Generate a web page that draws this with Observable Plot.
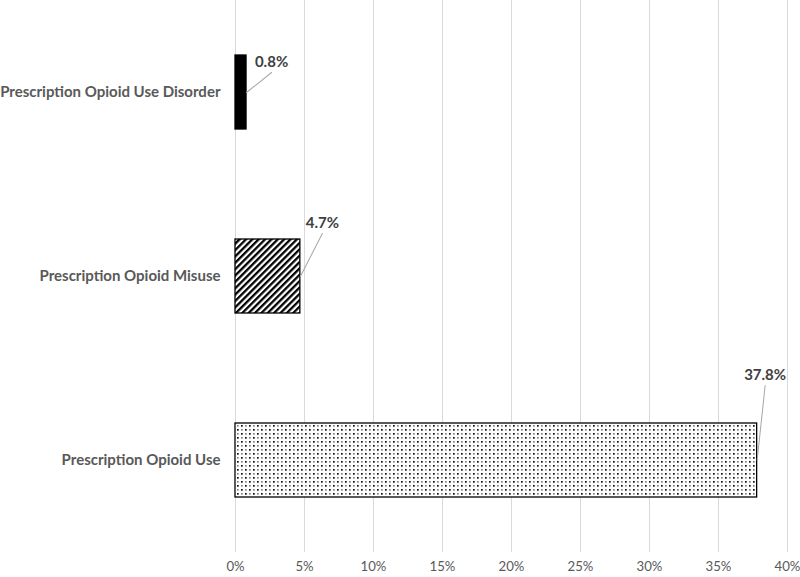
<!DOCTYPE html>
<html>
<head>
<meta charset="utf-8">
<script src="https://cdn.jsdelivr.net/npm/d3@7"></script>
<script src="https://cdn.jsdelivr.net/npm/@observablehq/plot@0.6"></script>
<style>
  html, body { margin: 0; padding: 0; background: #fff; }
  #chart { width: 800px; height: 577px; overflow: hidden; }
</style>
</head>
<body>
<div id="chart"></div>
<script>
// Data
const categories = ["Prescription Opioid Use Disorder", "Prescription Opioid Misuse", "Prescription Opioid Use"];
const values = [0.8, 4.7, 37.8];
const xTicks = [0, 5, 10, 15, 20, 25, 30, 35, 40];

// Styling (label placement offsets in px, patterns)
const labelDx = [25, 22, 8];
const labelDy = [-30, -53, -85];
const lineGap = 10;
const fills = ["#000", "url(#stripes)", "url(#dots)"];

const data = categories.map((c, i) => ({category: c, value: values[i], i}));
const leader = data.map(d => {
  const ex = labelDx[d.i], ey = labelDy[d.i] + lineGap;
  return {...d, length: Math.hypot(ex, ey), rotate: Math.atan2(ex, -ey) * 180 / Math.PI};
});

const font = "Lato, 'Open Sans', sans-serif";

const plot = Plot.plot({
  width: 800,
  height: 577,
  marginLeft: 235,
  marginRight: 13,
  marginTop: 0,
  marginBottom: 25,
  style: {fontFamily: font, fontSize: "13px", color: "#595959", background: "#fff", overflow: "visible"},
  x: {domain: [0, 40], ticks: xTicks, tickFormat: d => d + "%", tickSize: 0, tickPadding: 10, label: null},
  y: {domain: categories, paddingInner: 0.6, paddingOuter: 0.3, tickSize: 0, tickPadding: 15, label: null},
  length: {type: "identity"},
  marks: [
    Plot.gridX(xTicks, {stroke: "#d9d9d9", strokeOpacity: 1, strokeWidth: 1}),
    ...data.map(d => Plot.barX([d], {x: "value", y: "category", fill: fills[d.i], stroke: "#000", strokeWidth: 1.3})),
    Plot.vector(leader, {x: "value", y: "category", length: "length", rotate: "rotate", anchor: "start", r: 0, stroke: "#a6a6a6", strokeWidth: 1}),
    ...data.map(d => Plot.text([d], {x: "value", y: "category", text: v => v.value.toFixed(1) + "%", dx: labelDx[d.i], dy: labelDy[d.i], fill: "#404040", fontWeight: "bold", fontSize: 15, textAnchor: "middle"})),
    Plot.axisY({tickSize: 0, tickPadding: 15, fontWeight: "bold", fontSize: 15, fill: "#595959"}),
    Plot.axisX({ticks: xTicks, tickFormat: d => d + "%", tickSize: 0, tickPadding: 9, fontSize: 13.2, fill: "#595959"})
  ]
});

// Pattern definitions
const svg = d3.select(plot);
const defs = svg.insert("defs", ":first-child");
const st = defs.append("pattern").attr("id", "stripes").attr("patternUnits", "userSpaceOnUse")
  .attr("width", 4.5).attr("height", 10).attr("patternTransform", "rotate(45)");
st.append("rect").attr("width", 4.5).attr("height", 10).attr("fill", "#fff");
st.append("rect").attr("width", 2.3).attr("height", 10).attr("fill", "#000");
const dt = defs.append("pattern").attr("id", "dots").attr("patternUnits", "userSpaceOnUse")
  .attr("width", 8).attr("height", 8);
dt.append("rect").attr("width", 8).attr("height", 8).attr("fill", "#fff");
[[0,0,"#111"],[4,4,"#111"],[4,0,"#888"],[0,4,"#888"]].forEach(([x,y,c]) =>
  dt.append("rect").attr("x", x + 1).attr("y", y + 1).attr("width", 1.7).attr("height", 1.7).attr("fill", c));

document.getElementById("chart").appendChild(plot);
</script>
</body>
</html>
